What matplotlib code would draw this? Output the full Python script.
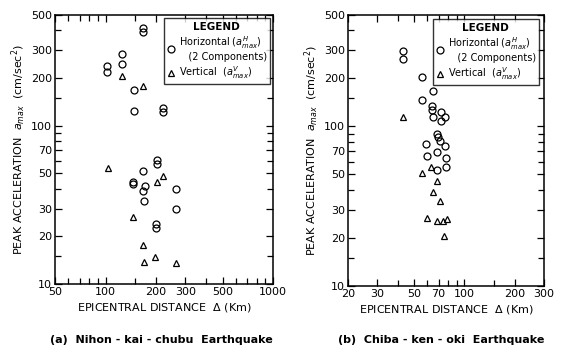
import matplotlib.pyplot as plt
from matplotlib.lines import Line2D

# (a) Nihon-kai-chubu earthquake
a_h_dist = [102, 102, 126, 126, 168, 168, 148, 148, 221, 221, 168, 203, 203,
            146, 146, 172, 168, 264, 170, 264, 200, 200]
a_h_acc = [240, 218, 284, 245, 414, 391, 168, 124, 129, 122, 52, 61, 57,
           44, 43, 41.6, 38.7, 39.8, 33.4, 30, 24, 22.6]
a_v_dist = [126, 168, 104, 221, 203, 146, 168, 197, 170, 264]
a_v_acc = [207, 178, 54, 48, 44, 26.5, 17.6, 14.8, 13.8, 13.6]

# (b) Chiba-ken-oki earthquake
b_h_dist = [43, 43, 56, 65, 56, 64, 64, 72, 65, 76, 72, 68, 69, 71, 76,
            59, 60, 68, 78, 78, 68]
b_h_acc = [297, 265, 204, 167, 147, 134, 127, 123, 115, 115, 108, 90, 86,
           81, 75.5, 78, 65.4, 69, 63.4, 55.8, 53.3]
b_v_dist = [43, 63, 56, 68, 65, 71, 60, 68, 74, 79, 75]
b_v_acc = [115, 55.8, 51, 45.5, 38.8, 34.1, 26.7, 25.6, 25.6, 26.3, 20.6]

a_xticks = [50, 100, 200, 300, 500, 1000]
a_xminor = [60, 70, 80, 90, 150, 400, 600, 700, 800, 900]
b_xticks = [20, 30, 50, 70, 100, 200, 300]
b_xminor = [40, 60, 80, 90, 150]
yticks = [10, 20, 30, 50, 70, 100, 200, 300, 500]
yminor = [15, 40, 60, 80, 90, 150, 400]

fig = plt.figure(figsize=(5.62, 3.52), dpi=100)
ax1 = fig.add_axes([0.098, 0.193, 0.388, 0.764])
ax2 = fig.add_axes([0.619, 0.188, 0.349, 0.770])

mk = dict(linestyle='none', markerfacecolor='none', markeredgecolor='black',
          markeredgewidth=0.9, markersize=5)


def setup(ax, hd, ha, vd, va, xlim, xt, xm, anchor):
    ax.plot(hd, ha, marker='o', **mk)
    ax.plot(vd, va, marker='^', **mk)
    ax.set_xscale('log')
    ax.set_yscale('log')
    ax.set_xlim(*xlim)
    ax.set_ylim(10, 500)
    ax.set_xticks(xt)
    ax.set_xticklabels([str(v) for v in xt])
    ax.set_xticks(xm, minor=True)
    ax.set_xticklabels([], minor=True)
    ax.set_yticks(yticks)
    ax.set_yticklabels([str(v) for v in yticks])
    ax.set_yticks(yminor, minor=True)
    ax.set_yticklabels([], minor=True)
    ax.tick_params(which='both', direction='in', top=True, right=True,
                   labelsize=8, width=0.9, pad=2)
    ax.tick_params(which='major', length=5)
    ax.tick_params(which='minor', length=4)
    for s in ax.spines.values():
        s.set_linewidth(1.1)
    ax.set_xlabel('EPICENTRAL DISTANCE  $\\Delta$ (Km)', fontsize=8, labelpad=3)
    ax.set_ylabel('PEAK ACCELERATION  $a_{max}$  (cm/sec$^2$)', fontsize=8,
                  labelpad=2)
    handles = [Line2D([], [], marker='o', **mk), Line2D([], [], marker='^', **mk)]
    labels = ['Horizontal ($a^H_{max}$)\n   (2 Components)',
              'Vertical  ($a^V_{max}$)']
    leg = ax.legend(handles, labels, title='LEGEND', loc='upper right',
                    bbox_to_anchor=anchor, fontsize=7, title_fontsize=7.5,
                    frameon=True, fancybox=False, edgecolor='black',
                    handlelength=0.8, handletextpad=0.4, borderpad=0.35,
                    labelspacing=0.2, borderaxespad=0.2)
    leg.get_frame().set_linewidth(1.0)
    leg.get_title().set_fontweight('bold')


setup(ax1, a_h_dist, a_h_acc, a_v_dist, a_v_acc, (50, 1000),
      a_xticks, a_xminor, (0.995, 0.995))
setup(ax2, b_h_dist, b_h_acc, b_v_dist, b_v_acc, (20, 300),
      b_xticks, b_xminor, (0.985, 0.99))

fig.text(0.287, 0.025, '(a)  Nihon - kai - chubu  Earthquake', ha='center',
         fontsize=8, fontweight='bold')
fig.text(0.785, 0.025, '(b)  Chiba - ken - oki  Earthquake', ha='center',
         fontsize=8, fontweight='bold')

fig.savefig('out.png', dpi=100)
